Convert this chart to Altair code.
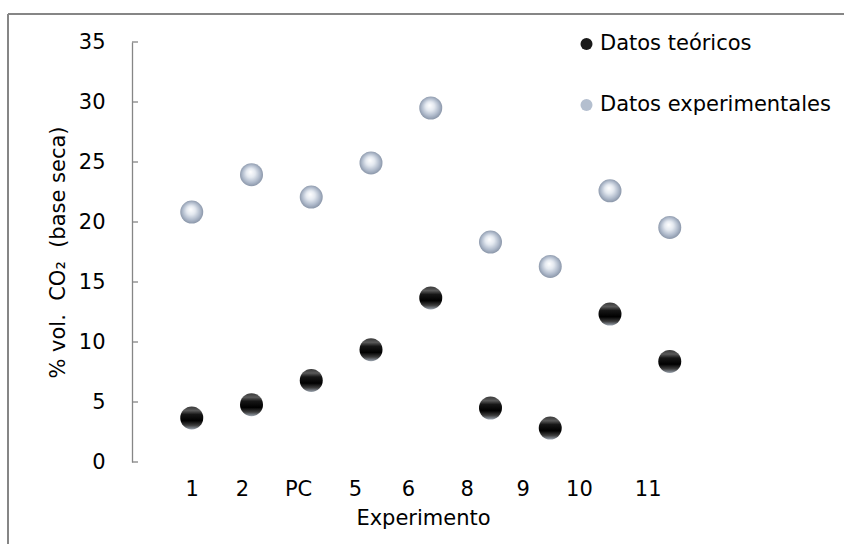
import altair as alt
import pandas as pd

# Experiment labels and measured / theoretical CO2 (% vol., dry basis)
experimentos = ["1", "2", "PC", "5", "6", "8", "9", "10", "11"]
teoricos = [3.67, 4.78, 6.8, 9.36, 13.67, 4.5, 2.83, 12.33, 8.38]
experimentales = [20.83, 23.94, 22.08, 24.92, 29.5, 18.33, 16.3, 22.6, 19.55]

# Where each experiment label sits along the x axis
label_pos = [1.0, 1.84, 2.78, 3.73, 4.62, 5.6, 6.54, 7.48, 8.63]
y_ticks = [0, 5, 10, 15, 20, 25, 30, 35]

SER_T = "Datos teóricos"
SER_E = "Datos experimentales"
FONT = "DejaVu Sans"
FS = 21
GRAY = "#868686"
NB = "\u00a0"

rows = []
for i, (t, e) in enumerate(zip(teoricos, experimentales)):
    rows.append({"pos": i + 1, "exp": experimentos[i], "serie": SER_T, "valor": t})
    rows.append({"pos": i + 1, "exp": experimentos[i], "serie": SER_E, "valor": e})
df = pd.DataFrame(rows)
ticks_df = pd.DataFrame({"valor": y_ticks})

W, H = 597.5, 420

label_expr = "[{}][indexof([{}], datum.value)]".format(
    ",".join("'" + s + "'" for s in experimentos),
    ",".join(str(p) for p in label_pos),
)

x_scale = alt.Scale(domain=[0, 10], nice=False)
x_axis = alt.Axis(
    values=label_pos, labelExpr=label_expr, domain=False, ticks=False,
    grid=False, labelFont=FONT, labelFontSize=FS, labelColor="#000",
    labelPadding=16, title="Experimento", titleFont=FONT, titleFontSize=FS,
    titleFontWeight="normal", titleColor="#000", titlePadding=8, titleX=291,
    labelFlush=False, labelOverlap=False,
)
y_scale = alt.Scale(domain=[0, 35], nice=False)
y_axis = alt.Axis(
    values=y_ticks, ticks=False, grid=False, domainColor=GRAY, domainWidth=1.3,
    labelFont=FONT, labelFontSize=FS, labelColor="#000", labelPadding=27,
    title=f"%{NB}vol.{NB}{NB}CO₂{NB}{NB}(base{NB}seca)", titleFont=FONT,
    titleFontSize=FS, titleFontWeight="normal", titleColor="#000", titlePadding=10,
)

color_enc = alt.Color(
    "serie:N",
    scale=alt.Scale(domain=[SER_T, SER_E], range=["#1a1a1a", "#b4bfcf"]),
    legend=alt.Legend(
        title=None, orient="none", legendX=444, legendY=-8.5, padding=0,
        symbolType="circle", symbolSize=144, symbolStrokeWidth=0,
        symbolOpacity=1, labelFont=FONT, labelFontSize=FS, labelColor="#000",
        labelOffset=3, rowPadding=39, labelLimit=400,
    ),
)

dark_sphere = {
    "gradient": "linear", "x1": 0, "y1": 0, "x2": 0, "y2": 1,
    "stops": [
        {"offset": 0.0, "color": "#3a3a3a"},
        {"offset": 0.18, "color": "#5a5a5a"},
        {"offset": 0.35, "color": "#161616"},
        {"offset": 0.62, "color": "#000000"},
        {"offset": 0.82, "color": "#3c3c3c"},
        {"offset": 1.0, "color": "#9aa3ae"},
    ],
}
light_sphere = {
    "gradient": "radial", "x1": 0.45, "y1": 0.38, "r1": 0.0,
    "x2": 0.5, "y2": 0.5, "r2": 0.55,
    "stops": [
        {"offset": 0.0, "color": "#ffffff"},
        {"offset": 0.35, "color": "#e4e9f0"},
        {"offset": 0.7, "color": "#aeb9ca"},
        {"offset": 1.0, "color": "#7f8b9e"},
    ],
}

base = alt.Chart(df).encode(
    x=alt.X("pos:Q", scale=x_scale, axis=x_axis),
    y=alt.Y("valor:Q", scale=y_scale, axis=y_axis),
)

pts_t = base.transform_filter(alt.datum.serie == SER_T).mark_circle(
    size=529, opacity=1
).encode(fill=alt.value(dark_sphere))
pts_e = base.transform_filter(alt.datum.serie == SER_E).mark_circle(
    size=529, opacity=1
).encode(fill=alt.value(light_sphere))

# Invisible layer that carries the series legend
legend_layer = base.mark_circle(size=529, opacity=0).encode(color=color_enc)

# Inward tick marks on the value axis
tick_marks = alt.Chart(ticks_df).mark_rule(color=GRAY, strokeWidth=1.3).encode(
    y=alt.Y("valor:Q", scale=y_scale, axis=y_axis),
    x=alt.value(0),
    x2=alt.value(6),
)

# Outer chart border (left and top edges)
frame_left = alt.Chart(ticks_df).mark_rule(color=GRAY, strokeWidth=1.5).encode(
    x=alt.value(-124), y=alt.value(-28), y2=alt.value(520)
)
frame_top = alt.Chart(ticks_df).mark_rule(color=GRAY, strokeWidth=1.5).encode(
    x=alt.value(-124), x2=alt.value(720), y=alt.value(-28)
)

chart = (
    alt.layer(frame_left, frame_top, legend_layer, pts_t, pts_e, tick_marks)
    .properties(
        width=W, height=H,
        autosize=alt.AutoSizeParams(type="none"),
        padding={"left": 132, "top": 42, "right": 114.5, "bottom": 82},
        background="white",
    )
    .configure_view(stroke=None)
)

chart.save("out.html", embed_options={"renderer": "svg", "actions": False})
